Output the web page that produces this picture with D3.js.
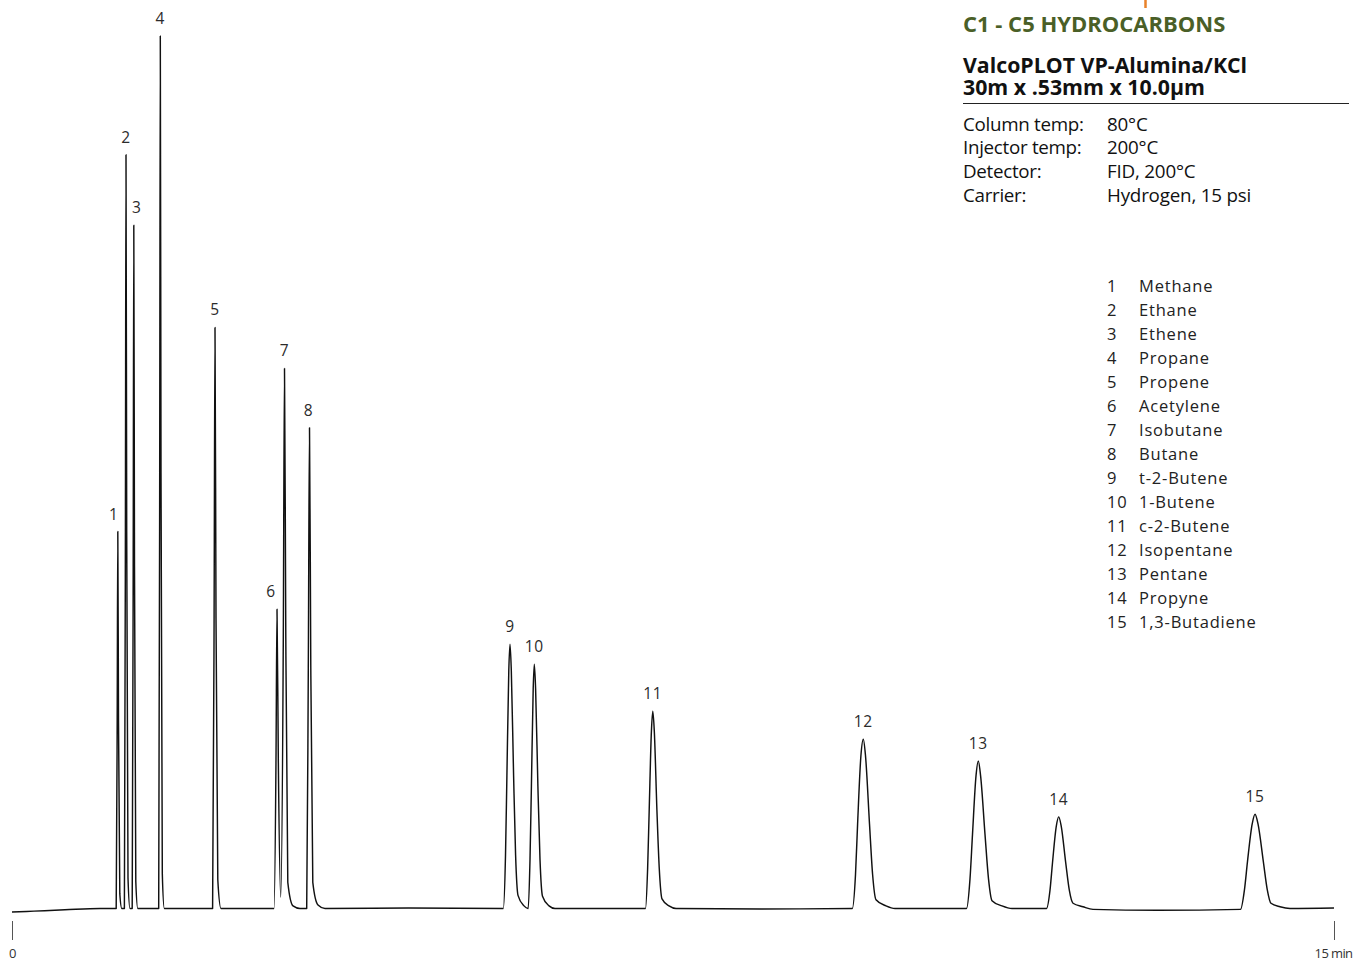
<!DOCTYPE html>
<html>
<head>
<meta charset="utf-8">
<script src="https://cdn.jsdelivr.net/npm/d3@7"></script>
<style>
  body { margin: 0; background: #fff; }
  svg { display: block; font-family: "Open Sans", sans-serif; }
</style>
</head>
<body>
<div id="chart"></div>
<script>

// peaks
var peakIds = [1, 2, 3, 4, 5, 6, 7, 8, 9, 10, 11, 12, 13, 14, 15];
var compoundNames = ["Methane", "Ethane", "Ethene", "Propane", "Propene", "Acetylene", "Isobutane",
  "Butane", "t-2-Butene", "1-Butene", "c-2-Butene", "Isopentane", "Pentane", "Propyne", "1,3-Butadiene"];
var peakTimes = [1.2005, 1.2935, 1.3820, 1.6827, 2.3033, 3.0068, 3.0919, 3.3756,
  5.6506, 5.9263, 7.2708, 9.6592, 10.9641, 11.8764, 14.1037];   // min
var peakHeights = [43.2, 86.4, 78.3, 100, 66.6, 34.3, 61.9, 55.1,
  30.3, 28.0, 22.6, 19.4, 16.9, 10.5, 10.8];                      // % of largest peak

// detector trace [time (min), signal (%)]
var trace = [
  [0, -0.4], [0.25, -0.3], [0.6, -0.15], [1.0, 0], [1.17, 0],
  // 1
  [1.1823, 0], [1.1936, 21.6], [1.2005, 43.2], [1.2084, 21.6], [1.2232, 1.7], [1.2459, 0],
  // 2
  [1.2753, 0], [1.2867, 43.2], [1.2935, 86.4], [1.3014, 43.2], [1.3162, 3.5], [1.3389, 0],
  // 3
  [1.3638, 0], [1.3752, 39.2], [1.3820, 78.3], [1.3899, 39.2], [1.4047, 3.1], [1.4274, 0],
  // 4
  [1.6645, 0], [1.6759, 50], [1.6827, 100], [1.6906, 50], [1.7054, 4], [1.7281, 0],
  // 5
  [2.2761, 0], [2.2931, 33.3], [2.3033, 66.6], [2.3147, 33.3], [2.3351, 3.3], [2.3714, 0],
  // 6 + 7
  [2.9728, 0], [2.9955, 17.2], [3.0068, 34.3], [3.0216, 17.2], [3.0488, 1.3],
  [3.0783, 31], [3.0919, 61.9], [3.1067, 31], [3.1294, 3], [3.1884, 0.3], [3.2678, 0],
  // 8
  [3.3438, 0], [3.3620, 27.6], [3.3756, 55.1], [3.3903, 27.6], [3.4130, 3], [3.4720, 0.4], [3.5515, 0],
  [4.5, 0.05],
  // 9
  [5.5745, 0], [5.5995, 6.1], [5.6154, 15.2], [5.6369, 27.3], [5.6506, 30.3], [5.6653, 27.3],
  [5.6914, 15.2], [5.7141, 6.1], [5.7413, 1.5], [5.8094, 0.3], [5.8548, 0],
  // 10
  [5.8571, 0], [5.8775, 5.6], [5.8934, 14], [5.9138, 25.2], [5.9263, 28.0], [5.9410, 25.2],
  [5.9671, 14], [5.9910, 5.6], [6.0193, 1.4], [6.0931, 0.3], [6.1612, 0],
  // 11
  [7.1880, 0], [7.2118, 4.5], [7.2300, 11.3], [7.2550, 20.3], [7.2708, 22.6], [7.2879, 20.3],
  [7.3174, 11.3], [7.3446, 4.5], [7.3752, 1.1], [7.4547, 0.3], [7.5341, 0],
  [8.5, -0.05],
  // 12
  [9.5345, 0], [9.5708, 3.9], [9.5946, 9.7], [9.6321, 17.5], [9.6592, 19.4], [9.6843, 17.5],
  [9.7296, 9.7], [9.7648, 3.9], [9.8034, 1.0], [9.9168, 0.3], [10.019, 0],
  // 13
  [10.8302, 0], [10.8699, 3.4], [10.8983, 8.5], [10.9380, 15.2], [10.9641, 16.9], [10.9902, 15.2],
  [11.0401, 8.5], [11.0799, 3.4], [11.1196, 0.9], [11.2330, 0.3], [11.3465, 0],
  // 14
  [11.7380, 0], [11.7777, 2.1], [11.8060, 5.25], [11.8492, 9.45], [11.8764, 10.5], [11.9048, 9.45],
  [11.9558, 5.25], [11.9967, 2.1], [12.0386, 0.6], [12.1521, 0.2], [12.2656, -0.1],
  [13.0, -0.2],
  // 15
  [13.9392, -0.1], [13.9846, 2.2], [14.0186, 5.4], [14.0719, 9.7], [14.1037, 10.8], [14.1377, 9.7],
  [14.1979, 5.4], [14.2421, 2.2], [14.2852, 0.6], [14.3874, 0.2], [14.5008, 0],
  [15.0, 0.05]
];

var xTickValues = [0, 15];
var xTickLabels = ["0", "15 min"];

var titleText = "C1 - C5 HYDROCARBONS";
var columnLines = ["ValcoPLOT VP-Alumina/KCl", "30m x .53mm x 10.0\u03bcm"];
var conditionLabels = ["Column temp:", "Injector temp:", "Detector:", "Carrier:"];
var conditionValues = ["80\u00b0C", "200\u00b0C", "FID, 200\u00b0C", "Hydrogen, 15 psi"];

// ---------------------------------------------------------------

var width = 1353, height = 962;

var svg = d3.select("#chart").append("svg")
    .attr("width", width)
    .attr("height", height);

var x = d3.scaleLinear().domain([0, 15]).range([12, 1334]);
var y = d3.scaleLinear().domain([0, 100]).range([908.5, 36]);

// trace
var line = d3.line()
    .x(function(d) { return x(d[0]); })
    .y(function(d) { return y(d[1]); })
    .curve(d3.curveMonotoneX);

svg.append("path")
    .datum(trace)
    .attr("fill", "none")
    .attr("stroke", "#111")
    .attr("stroke-width", 1.45)
    .attr("stroke-linejoin", "round")
    .attr("d", line);

// peak numbers
var labelNudge = {1: -4, 3: 3, 6: -6, 8: -1};
svg.selectAll(".peak-label")
    .data(peakIds)
  .enter().append("text")
    .attr("class", "peak-label")
    .attr("x", function(d, i) { return x(peakTimes[i]) + (labelNudge[d] || 0); })
    .attr("y", function(d, i) { return y(peakHeights[i]) - 12; })
    .attr("text-anchor", "middle")
    .style("font-size", "15.5px")
    .style("letter-spacing", "0.6px")
    .style("fill", "#2b2b2b")
    .text(function(d) { return d; });

// time axis: just the two end ticks
var xAxis = d3.axisBottom(x)
    .tickValues(xTickValues)
    .tickSize(19)
    .tickPadding(9)
    .tickFormat(function(d, i) { return xTickLabels[i]; });

var gx = svg.append("g")
    .attr("transform", "translate(0,921)")
    .call(xAxis);
gx.select(".domain").remove();
gx.selectAll(".tick line").attr("stroke", "#555").attr("stroke-width", 1);
gx.selectAll(".tick text")
    .attr("fill", "#333")
    .style("font-family", "'Open Sans', sans-serif")
    .style("font-size", "13px")
    .style("letter-spacing", "-0.6px");
// keep the last label inside the page
gx.selectAll(".tick text")
    .filter(function(d) { return d === 15; })
    .attr("text-anchor", "end")
    .attr("x", 18);

// header block, top right
svg.append("line")
    .attr("x1", 1145.5).attr("x2", 1145.5)
    .attr("y1", 0).attr("y2", 8)
    .attr("stroke", "#e8822a")
    .attr("stroke-width", 2.5);

svg.append("text")
    .attr("x", 963).attr("y", 31.5)
    .style("font-size", "22px")
    .style("font-weight", "bold")
    .style("fill", "#4a5f27")
    .text(titleText);

svg.selectAll(".column-line")
    .data(columnLines)
  .enter().append("text")
    .attr("class", "column-line")
    .attr("x", 963)
    .attr("y", function(d, i) { return 72.7 + i * 22.7; })
    .style("font-size", "21.3px")
    .style("font-weight", "bold")
    .style("fill", "#111")
    .text(function(d) { return d; });

svg.append("line")
    .attr("x1", 963).attr("x2", 1349)
    .attr("y1", 103.5).attr("y2", 103.5)
    .attr("stroke", "#222")
    .attr("stroke-width", 1.2);

var cond = svg.selectAll(".cond")
    .data(conditionLabels)
  .enter().append("g")
    .attr("class", "cond")
    .attr("transform", function(d, i) { return "translate(0," + (130.5 + i * 23.7) + ")"; });

cond.append("text")
    .attr("x", 963)
    .style("font-size", "18.8px")
    .style("letter-spacing", "-0.3px")
    .style("fill", "#111")
    .text(function(d) { return d; });

cond.append("text")
    .attr("x", 1107)
    .style("font-size", "18.8px")
    .style("letter-spacing", "-0.2px")
    .style("fill", "#111")
    .text(function(d, i) { return conditionValues[i]; });

// compound list
var legend = svg.selectAll(".legend-row")
    .data(peakIds)
  .enter().append("g")
    .attr("class", "legend-row")
    .attr("transform", function(d, i) { return "translate(0," + (292 + i * 24) + ")"; });

legend.append("text")
    .attr("x", 1107)
    .style("font-size", "16.5px")
    .style("letter-spacing", "0.8px")
    .style("fill", "#222")
    .text(function(d) { return d; });

legend.append("text")
    .attr("x", 1139)
    .style("font-size", "16.5px")
    .style("letter-spacing", "0.8px")
    .style("fill", "#222")
    .text(function(d, i) { return compoundNames[i]; });

</script>
</body>
</html>
